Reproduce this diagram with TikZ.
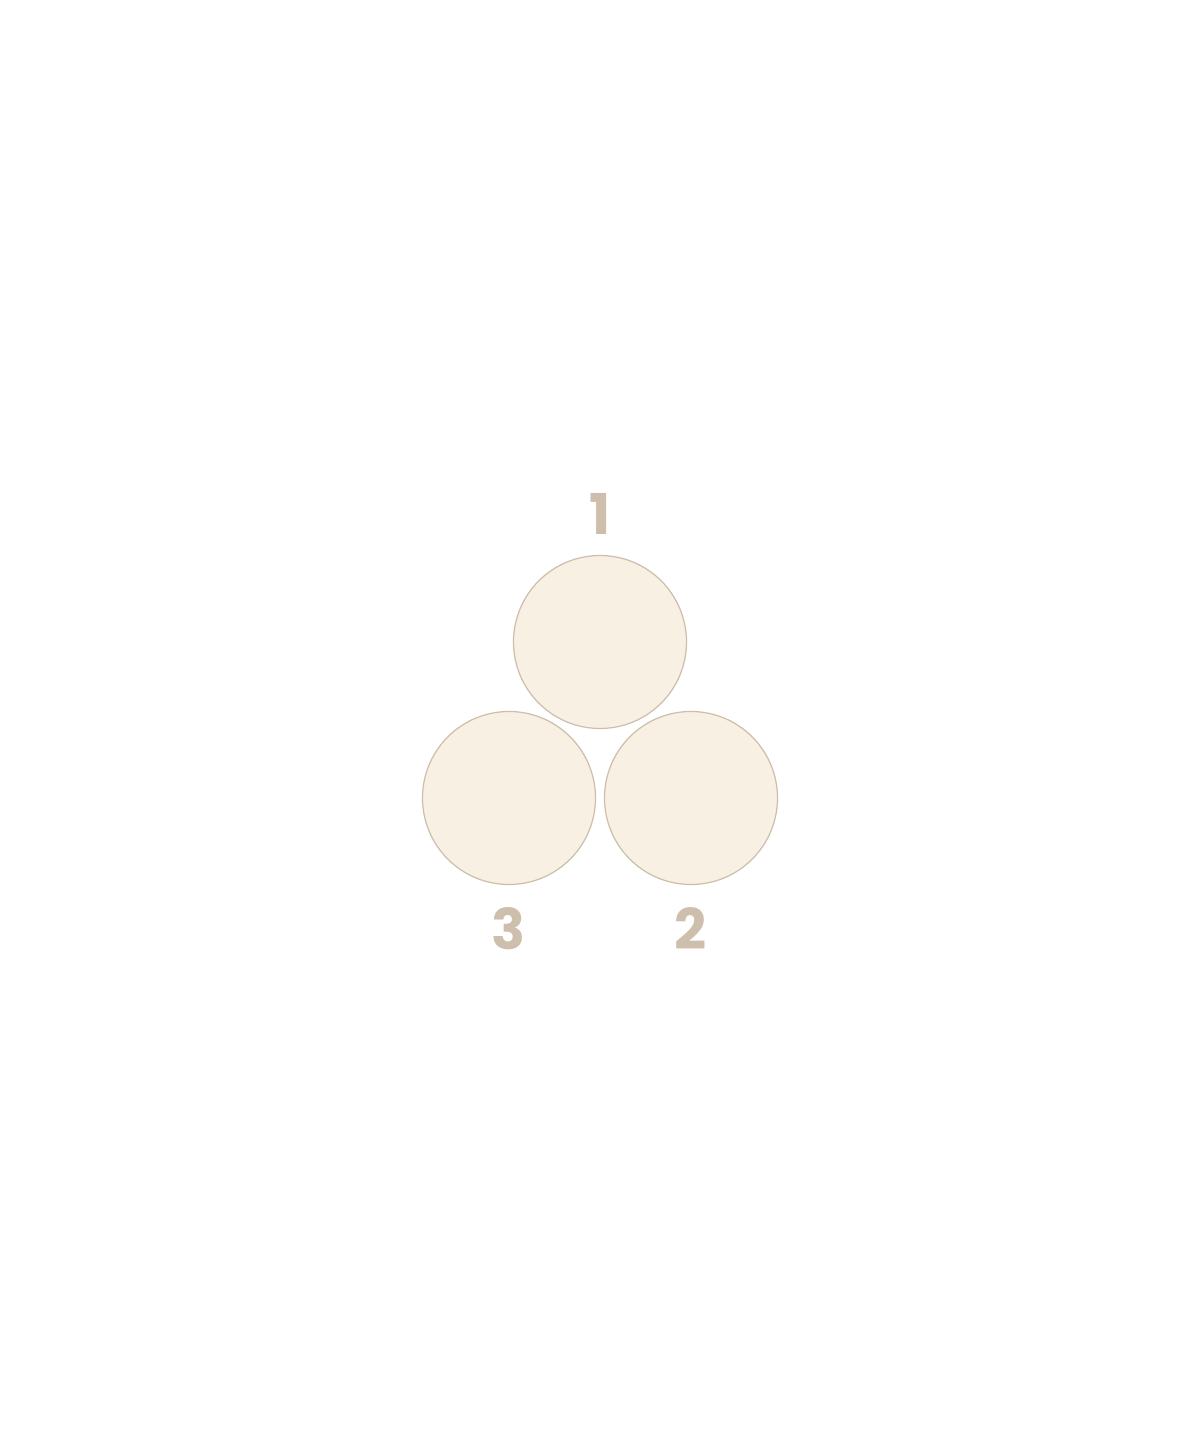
\documentclass[tikz,border=0pt]{standalone}
\usepackage{fontspec}
\setmainfont{Poppins}
\usetikzlibrary{positioning}
\definecolor{sand}{RGB}{247,240,227}
\definecolor{tan}{RGB}{206,190,172}
\begin{document}
\begin{tikzpicture}[node distance=0.2cm, disc/.style={circle, draw=tan, fill=sand, line width=0.35pt, minimum size=1.73cm, inner sep=0pt, outer sep=0pt}, num/.style={font=\bfseries\fontsize{16}{19}\selectfont, text=tan, inner sep=0pt}]
	\useasboundingbox (0, 0) rectangle (12, 14.4);
	
	% drei Kreise
	\node[disc] (c1) at (6, 7.98) {};
	\node[disc] (c2) at (6.91, 6.42) {};
	\node[disc] (c3) at (5.09, 6.42) {};
	\node[num, above=0.2cm of c1] (n1) {1};
	\node[num, below=0.22cm of c2] (n2) {2};
	\node[num, below=0.22cm of c3] (n3) {3};
\end{tikzpicture}
\end{document}
